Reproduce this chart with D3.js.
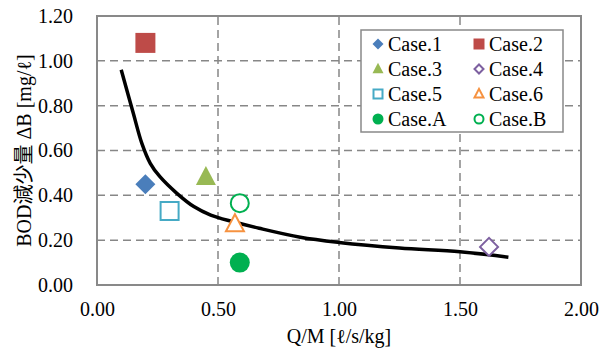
<!DOCTYPE html>
<html>
<head>
<meta charset="utf-8">
<script src="https://cdn.jsdelivr.net/npm/d3@7"></script>
<style>
body { margin: 0; background: #fff; }
</style>
</head>
<body>
<svg id="chart" width="607" height="350"></svg>
<script>
var FONT = "'Liberation Serif', 'Times New Roman', 'Noto Sans CJK JP', serif";

// case points
var caseNames = ["Case.1", "Case.2", "Case.3", "Case.4", "Case.5", "Case.6", "Case.A", "Case.B"];
var caseX = [0.20, 0.20, 0.45, 1.62, 0.30, 0.57, 0.59, 0.59];
var caseY = [0.45, 1.08, 0.48, 0.17, 0.33, 0.27, 0.10, 0.365];

// fitted curve
var curveX = [0.10, 0.15, 0.185, 0.22, 0.26, 0.33, 0.40, 0.47, 0.56, 0.67, 0.84, 1.00, 1.25, 1.50, 1.70];
var curveY = [0.96, 0.766, 0.633, 0.543, 0.483, 0.409, 0.35, 0.312, 0.283, 0.253, 0.213, 0.19, 0.165, 0.148, 0.124];

var xTicks = [0, 0.5, 1.0, 1.5, 2.0];
var yTicks = [0, 0.2, 0.4, 0.6, 0.8, 1.0, 1.2];

// marker style per case
var markerShape = ["diamond", "square", "triangle", "diamond", "square", "triangle", "circle", "circle"];
var markerFilled = [true, true, true, false, false, false, true, false];
var markerColor = ["#4A7EBB", "#BE4B48", "#98B954", "#7D60A0", "#46AAC5", "#F69240", "#00B050", "#00B050"];

var svg = d3.select("#chart");
var margin = {left: 97, right: 26, top: 16, bottom: 65};
var W = 607, H = 350;

var x = d3.scaleLinear().domain([0, 2]).range([margin.left, W - margin.right]);
var y = d3.scaleLinear().domain([0, 1.2]).range([H - margin.bottom, margin.top]);

// gridlines
svg.append("g").selectAll("line")
    .data(yTicks.filter(function(d){ return d > 0 && d < 1.2; }))
    .enter().append("line")
    .attr("x1", x(0)).attr("x2", x(2))
    .attr("y1", function(d){ return y(d); }).attr("y2", function(d){ return y(d); })
    .attr("stroke", "#878787").attr("stroke-width", 1.5)
    .attr("stroke-dasharray", "8,5");

svg.append("g").selectAll("line")
    .data(xTicks.filter(function(d){ return d > 0 && d < 2; }))
    .enter().append("line")
    .attr("y1", y(0)).attr("y2", y(1.2))
    .attr("x1", function(d){ return x(d); }).attr("x2", function(d){ return x(d); })
    .attr("stroke", "#878787").attr("stroke-width", 1.5)
    .attr("stroke-dasharray", "8,5");

// plot border
svg.append("rect")
    .attr("x", x(0)).attr("y", y(1.2))
    .attr("width", x(2) - x(0)).attr("height", y(0) - y(1.2))
    .attr("fill", "none").attr("stroke", "#898989").attr("stroke-width", 2);

// axes (labels only)
var xAxis = d3.axisBottom(x).tickValues(xTicks).tickFormat(d3.format(".2f")).tickSize(0).tickPadding(17);
svg.append("g").attr("transform", "translate(0," + y(0) + ")").call(xAxis)
    .attr("font-family", FONT).attr("font-size", 20)
    .call(function(g){ g.select(".domain").remove(); })
    .selectAll("text").attr("fill", "#000");

var yAxis = d3.axisLeft(y).tickValues(yTicks).tickFormat(d3.format(".2f")).tickSize(0).tickPadding(24);
svg.append("g").attr("transform", "translate(" + x(0) + ",0)").call(yAxis)
    .attr("font-family", FONT).attr("font-size", 20)
    .call(function(g){ g.select(".domain").remove(); })
    .selectAll("text").attr("fill", "#000");

// curve
var curveData = curveX.map(function(d, i){ return [d, curveY[i]]; });
var line = d3.line()
    .x(function(d){ return x(d[0]); })
    .y(function(d){ return y(d[1]); })
    .curve(d3.curveCatmullRom.alpha(0.5));
svg.append("path").datum(curveData)
    .attr("d", line)
    .attr("fill", "none").attr("stroke", "#000").attr("stroke-width", 3.5);

// marker path, s = full width
function markerPath(shape, s) {
    var r = s / 2;
    var p = d3.path();
    if (shape == "diamond") {
        p.moveTo(0, -r); p.lineTo(r, 0); p.lineTo(0, r); p.lineTo(-r, 0); p.closePath();
    } else if (shape == "square") {
        p.rect(-r, -r, s, s);
    } else if (shape == "triangle") {
        var h = s * 0.95;
        p.moveTo(0, -h * 0.6); p.lineTo(r, h * 0.4); p.lineTo(-r, h * 0.4); p.closePath();
    } else {
        p.arc(0, 0, r, 0, Math.PI * 2);
    }
    return p.toString();
}

function drawMarker(g, i, size) {
    var filled = markerFilled[i];
    var s = filled ? size : size - 2;
    var pth = g.append("path").attr("d", markerPath(markerShape[i], s));
    if (filled) {
        pth.attr("fill", markerColor[i]).attr("stroke", "none");
    } else {
        pth.attr("fill", "#fff").attr("stroke", markerColor[i]).attr("stroke-width", 2);
    }
}

// case points
caseNames.forEach(function(name, i) {
    var g = svg.append("g").attr("transform", "translate(" + x(caseX[i]) + "," + y(caseY[i]) + ")");
    drawMarker(g, i, 20);
});

// legend
var lg = svg.append("g").attr("transform", "translate(361,30)");
lg.append("rect").attr("width", 202).attr("height", 102)
    .attr("fill", "#fff").attr("stroke", "#898989").attr("stroke-width", 1.5);
caseNames.forEach(function(name, i) {
    var col = i % 2, row = Math.floor(i / 2);
    var item = lg.append("g").attr("transform", "translate(" + (17 + col * 101) + "," + (14 + row * 25) + ")");
    drawMarker(item, i, 11);
    item.append("text").attr("x", 10).attr("y", 7)
        .attr("font-family", FONT).attr("font-size", 20)
        .text(name);
});

// axis titles
svg.append("text")
    .attr("transform", "translate(31," + ((y(0) + y(1.2)) / 2) + ") rotate(-90)")
    .attr("text-anchor", "middle")
    .attr("font-family", FONT).attr("font-size", 20)
    .text("BOD減少量 ΔB [mg/ℓ]");

svg.append("text")
    .attr("x", (x(0) + x(2)) / 2).attr("y", 343)
    .attr("text-anchor", "middle")
    .attr("font-family", FONT).attr("font-size", 20)
    .text("Q/M [ℓ/s/kg]");
</script>
</body>
</html>
